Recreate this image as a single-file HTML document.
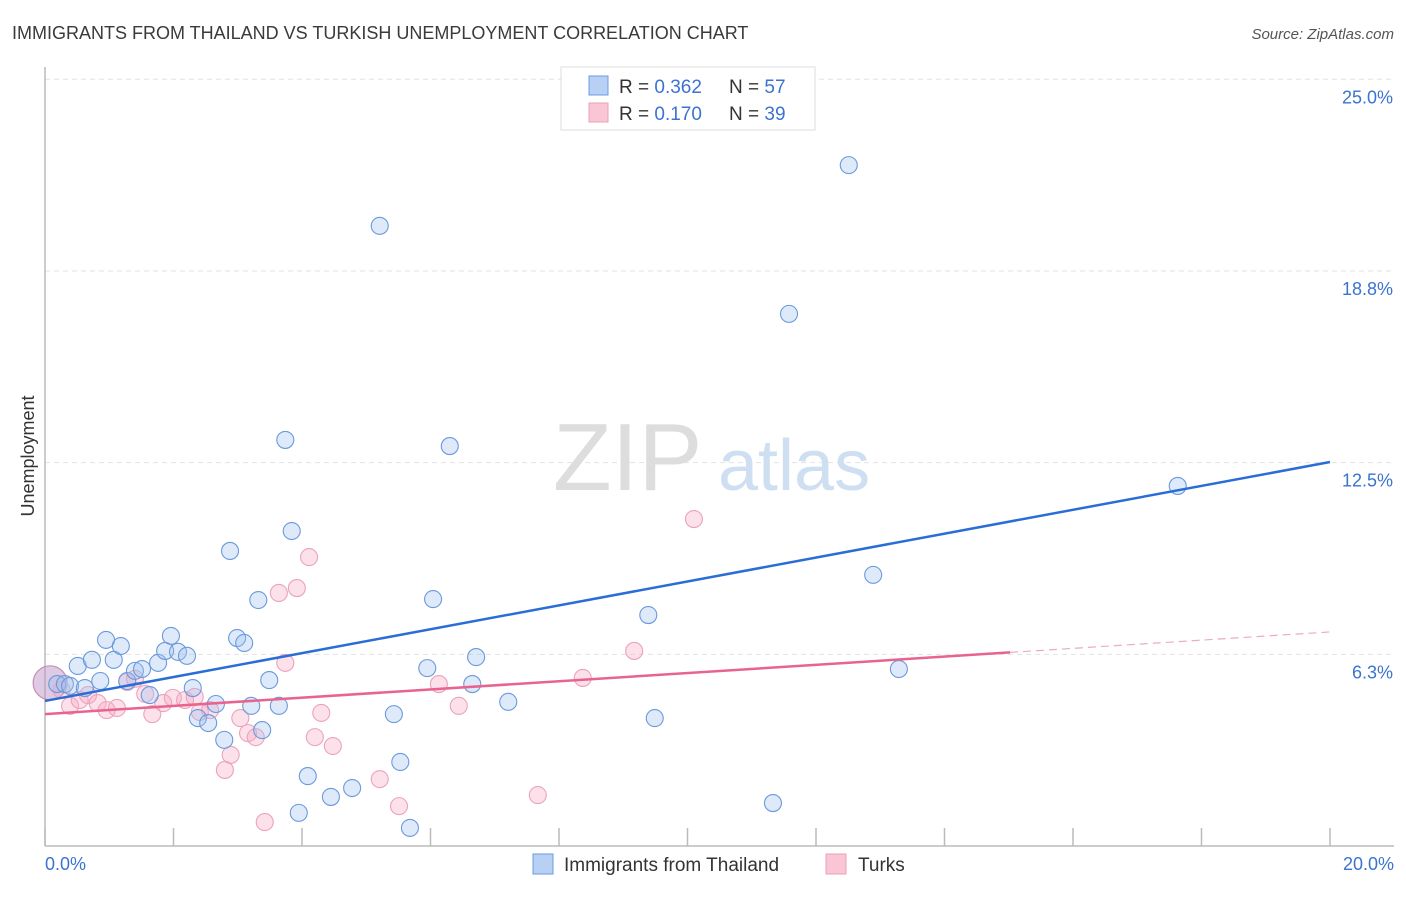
<!DOCTYPE html>
<html><head><meta charset="utf-8"><style>
body{margin:0;background:#fff;font-family:"Liberation Sans",sans-serif;}
svg text{font-family:"Liberation Sans",sans-serif;}
</style></head><body>
<svg id="c" width="1406" height="892"></svg>
<script>
const blueX=[0.19,0.31,0.39,0.51,0.62,0.73,0.86,0.95,1.07,1.18,1.28,1.40,1.51,1.63,1.76,1.87,1.96,2.07,2.21,2.30,2.38,2.54,2.66,2.79,2.88,2.99,3.10,3.21,3.32,3.38,3.49,3.64,3.74,3.84,3.95,4.09,4.45,4.78,5.21,5.43,5.53,5.68,5.95,6.04,6.30,6.65,6.71,7.21,9.39,9.49,11.33,11.58,12.51,12.89,13.29,17.63];
const blueY=[5.28,5.28,5.22,5.87,5.15,6.07,5.38,6.72,6.07,6.52,5.38,5.71,5.77,4.92,5.97,6.36,6.85,6.33,6.20,5.15,4.17,4.01,4.63,3.46,9.62,6.78,6.62,4.57,8.02,3.78,5.41,4.57,13.24,10.27,1.08,2.28,1.60,1.89,20.22,4.30,2.74,0.59,5.80,8.05,13.04,5.28,6.16,4.70,7.53,4.17,1.40,17.35,22.20,8.84,5.77,11.74];
const pinkX=[0.26,0.39,0.54,0.67,0.82,0.96,1.12,1.28,1.40,1.56,1.67,1.84,1.99,2.18,2.33,2.41,2.57,2.80,2.89,3.04,3.16,3.28,3.42,3.64,3.74,3.92,4.11,4.20,4.30,4.48,5.21,5.51,6.13,6.44,7.67,8.37,9.17,10.10];
const pinkY=[5.09,4.57,4.76,4.92,4.66,4.43,4.50,5.35,5.45,4.96,4.30,4.66,4.83,4.76,4.86,4.37,4.43,2.48,2.97,4.17,3.68,3.55,0.78,8.25,5.97,8.41,9.42,3.55,4.34,3.26,2.18,1.30,5.28,4.57,1.66,5.48,6.36,10.66];
const blueTrend=[4.73,12.52];
const pinkTrend=[4.30,6.98];
const pinkSolidEnd=15.02;
const yTicks=[25,18.75,12.5,6.25];
const yTickLabels=["25.0%","18.8%","12.5%","6.3%"];

const svg=document.getElementById('c');const NS='http://www.w3.org/2000/svg';
const X=v=>45+v*64.25, Y=v=>846-v*30.67;
function el(t,a,p){const e=document.createElementNS(NS,t);for(const k in a)e.setAttribute(k,a[k]);(p||svg).appendChild(e);return e;}
function tx(x,y,s,a){const e=el('text',Object.assign({x:x,y:y},a));e.textContent=s;return e;}

let t=tx(12,39,"IMMIGRANTS FROM THAILAND VS TURKISH UNEMPLOYMENT CORRELATION CHART",{'font-size':18,fill:'#3a3a3a'});

t=tx(1394,39,"Source: ZipAtlas.com",{'font-size':15,fill:'#555','font-style':'italic','text-anchor':'end'});


yTicks.forEach((v,i)=>{
 const g=el('line',{x1:45,x2:1394,y1:Y(v),y2:Y(v),stroke:'#e2e2e2','stroke-dasharray':'5,4'});
 
 const l=tx(1393,Y(v)+24,yTickLabels[i],{'font-size':18,fill:'#3b73d1','text-anchor':'end'});
 
});
let a=el('line',{x1:45,x2:45,y1:67,y2:846,stroke:'#bbb','stroke-width':1.5});

a=el('line',{x1:45,x2:1394,y1:846,y2:846,stroke:'#bbb','stroke-width':1.5});

for(let i=0;i<=10;i++){const k=el('line',{x1:X(i*2),x2:X(i*2),y1:828,y2:846,stroke:'#bbb','stroke-width':1.5});
 }
t=tx(45,870,"0.0%",{'font-size':18,fill:'#3b73d1'});
t=tx(1394,870,"20.0%",{'font-size':18,fill:'#3b73d1','text-anchor':'end'});
t=tx(34,456,"Unemployment",{'font-size':18,fill:'#333','text-anchor':'middle',transform:'rotate(-90 34 456)'});


t=tx(553,490,"ZIP",{'font-size':96,fill:'#ddd','font-family':'Liberation Serif'});
t=tx(718,490,"atlas",{'font-size':72,fill:'#cfdff2'});

let big=el('circle',{cx:X(0.08),cy:Y(5.32),r:17,fill:'rgba(190,150,200,0.5)',stroke:'#c58fb5','stroke-width':1.2});

pinkX.forEach((x,i)=>{const c=el('circle',{cx:X(x),cy:Y(pinkY[i]),r:8.5,fill:'rgba(245,170,195,0.35)',stroke:'#eba3bb','stroke-width':1.1});
 });
blueX.forEach((x,i)=>{const c=el('circle',{cx:X(x),cy:Y(blueY[i]),r:8.5,fill:'rgba(160,196,240,0.35)',stroke:'#6a99dc','stroke-width':1.1});
 });

const ps=(pinkTrend[1]-pinkTrend[0])/20;
let L=el('line',{x1:X(0),y1:Y(blueTrend[0]),x2:X(20),y2:Y(blueTrend[1]),stroke:'#2a6dd6','stroke-width':2.5});

L=el('line',{x1:X(0),y1:Y(pinkTrend[0]),x2:X(pinkSolidEnd),y2:Y(pinkTrend[0]+ps*pinkSolidEnd),stroke:'#e8648f','stroke-width':2.5});

L=el('line',{x1:X(pinkSolidEnd),y1:Y(pinkTrend[0]+ps*pinkSolidEnd),x2:X(20),y2:Y(pinkTrend[1]),stroke:'#eeaabf','stroke-width':1.2,'stroke-dasharray':'8,5'});


const lg=el('g',{});
el('rect',{x:561,y:67,width:254,height:63,fill:'#fff',stroke:'#ddd'},lg);
el('rect',{x:589,y:76,width:19,height:19,fill:'#b7d0f3',stroke:'#6b9be0'},lg);
el('rect',{x:589,y:103,width:19,height:19,fill:'#f9c6d6',stroke:'#ec9fb9'},lg);
[["0.362","57",93],["0.170","39",120]].forEach(r=>{
 const a1=tx(619,r[2],"R = ",{'font-size':19,fill:'#333'},lg);
 const b=el('tspan',{fill:'#3b73d1'},a1);b.textContent=r[0];
 const c=tx(729,r[2],"N = ",{'font-size':19,fill:'#333'},lg);
 const d=el('tspan',{fill:'#3b73d1'},c);d.textContent=r[1];
});
const bl=el('g',{});
el('rect',{x:533,y:854,width:20,height:20,fill:'#b7d0f3',stroke:'#6b9be0'},bl);
tx(564,871,"Immigrants from Thailand",{'font-size':19,fill:'#333'},bl);
el('rect',{x:826,y:854,width:20,height:20,fill:'#f9c6d6',stroke:'#ec9fb9'},bl);
tx(858,871,"Turks",{'font-size':19,fill:'#333'},bl);
</script>
</body></html>
